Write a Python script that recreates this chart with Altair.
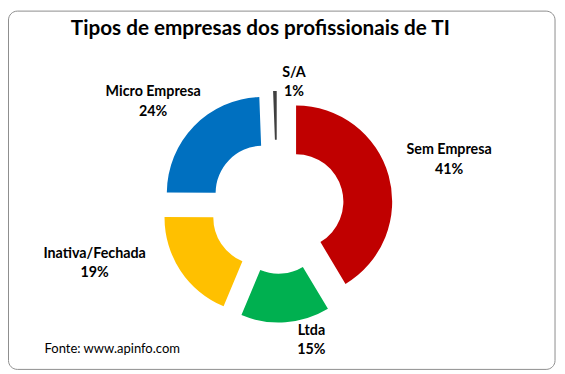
import math
import altair as alt
import pandas as pd

# ---- data ----
categories = ["Sem Empresa", "Ltda", "Inativa/Fechada", "Micro Empresa", "S/A"]
shares = [41.4, 14.9, 18.8, 24.3, 0.6]
colors = ["#C00000", "#00B050", "#FFC000", "#0070C0", "#404040"]
title_text = "Tipos de empresas dos profissionais de TI"
source_text = "Fonte: www.apinfo.com"

labels = [f"{c}\n{round(v)}%" for c, v in zip(categories, shares)]
df = pd.DataFrame({
    "cat": categories,
    "value": shares,
    "order": list(range(len(categories))),
    "label": labels,
})

# ---- style / layout ----
W, H = 557, 366
CX, CY = 273, 199
R_OUT, R_IN = 97.5, 48
EXPLODE = 20
LABEL_R = 150
LABEL_NUDGE = {
    "Sem Empresa": (30, -17),
    "Ltda": (24, -24),
    "Inativa/Fechada": (-60, -35),
    "Micro Empresa": (-18, -12),
    "S/A": (20, 14),
}
FONT = "Lato"

total = sum(shares)
cum = 0.0
mids = []
for v in shares:
    mids.append(2 * math.pi * (cum + v / 2) / total)
    cum += v

color_enc = alt.Color("cat:N", scale=alt.Scale(domain=categories, range=colors), legend=None)

base = alt.Chart(df).encode(
    theta=alt.Theta("value:Q", stack=True),
    order=alt.Order("order:Q"),
    x=alt.value(CX),
    y=alt.value(CY),
)

arcs = []
texts = []
for cat, mid in zip(categories, mids):
    sel = alt.condition(alt.datum.cat == cat, alt.value(1), alt.value(0))
    arcs.append(
        base.mark_arc(
            radius=R_OUT, radius2=R_IN,
            xOffset=EXPLODE * math.sin(mid), yOffset=-EXPLODE * math.cos(mid),
        ).encode(color=color_enc, opacity=sel)
    )
    dx, dy = LABEL_NUDGE[cat]
    texts.append(
        base.mark_text(
            radius=LABEL_R, dx=dx, dy=dy, font=FONT, fontWeight="bold",
            fontSize=14.5, lineBreak="\n", lineHeight=20, align="center",
            baseline="middle", color="#000000",
        ).encode(text="label:N", opacity=sel)
    )

border = alt.Chart(pd.DataFrame({"a": [0]})).mark_rect(
    fill="white", stroke="#8c8c8c", strokeWidth=1, cornerRadius=9
).encode(x=alt.value(0.5), x2=alt.value(555), y=alt.value(0.5), y2=alt.value(364))

title = alt.Chart(pd.DataFrame({"t": [title_text]})).mark_text(
    font=FONT, fontWeight="bold", fontSize=21, align="center", baseline="alphabetic", color="#000000"
).encode(text="t:N", x=alt.value(256), y=alt.value(25))

source = alt.Chart(pd.DataFrame({"t": [source_text]})).mark_text(
    font=FONT, fontSize=13.2, align="left", baseline="alphabetic", color="#000000"
).encode(text="t:N", x=alt.value(37), y=alt.value(347))

chart = alt.layer(border, *arcs, *texts, title, source).properties(
    width=W, height=H, autosize=alt.AutoSizeParams(type="none"), padding=0
).configure_view(stroke=None)

chart.save("out.html", embed_options={"renderer": "svg", "actions": False})
